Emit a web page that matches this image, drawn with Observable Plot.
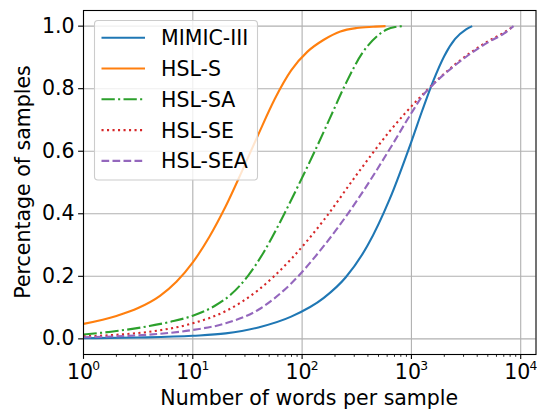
<!DOCTYPE html>
<html><head><meta charset="utf-8">
<script src="https://cdn.jsdelivr.net/npm/d3@7"></script>
<script src="https://cdn.jsdelivr.net/npm/@observablehq/plot@0.6"></script>
<style>
html,body{margin:0;padding:0;background:#fff;}
#chart{width:537px;height:411px;overflow:hidden;}
</style></head><body><div id="chart"></div>
<script>
// ---- data ----
const mimicIII = [[1,0.002],[3.16,0.0043],[10,0.0098],[20,0.0175],[39.8,0.0365],[79.4,0.071],[158,0.131],[251,0.197],[398,0.299],[631,0.446],[1000,0.631],[1259,0.731],[1585,0.825],[1995,0.904],[2512,0.959],[3162,0.990],[3600,1.000]];
const hslS = [[1,0.048],[2,0.0735],[3.16,0.0985],[5.01,0.1375],[7.08,0.1825],[10,0.2445],[14.1,0.325],[20,0.424],[28.2,0.5365],[39.8,0.654],[56.2,0.767],[79.4,0.8585],[112,0.9185],[158,0.9565],[224,0.983],[316,0.994],[447,0.998],[580,1.000]];
const hslSA = [[1,0.014],[2,0.025],[4,0.041],[6.3,0.055],[10,0.074],[15.8,0.105],[22.4,0.1425],[31.6,0.199],[44.7,0.278],[63,0.374],[89,0.479],[126,0.5885],[178,0.7025],[251,0.8165],[355,0.9135],[501,0.972],[603,0.990],[708,0.997],[850,1.000]];
const hslSE = [[1,0.008],[2,0.013],[4,0.0228],[10,0.0498],[20,0.0888],[39.8,0.1563],[79.4,0.2553],[158,0.3798],[316,0.5253],[631,0.6633],[1259,0.7803],[2512,0.8778],[5012,0.9513],[7000,0.979],[8600,1.000]];
const hslSEA = [[1,0.005],[2,0.008],[4,0.0136],[10,0.0286],[20,0.0496],[39.8,0.0931],[79.4,0.1771],[158,0.2971],[316,0.4411],[631,0.6061],[1000,0.7221],[1259,0.7761],[1585,0.8137],[2512,0.8748],[5012,0.9483],[7000,0.976],[8600,1.000]];

const seriesNames = ["MIMIC-III","HSL-S","HSL-SA","HSL-SE","HSL-SEA"];
const seriesData = [mimicIII, hslS, hslSA, hslSE, hslSEA];
const seriesColors = ["#1f77b4","#ff7f0e","#2ca02c","#d62728","#9467bd"];
const seriesDash = [null, null, "13.3,3.3,2.1,3.3", "2.1,3.4", "7.7,3.3"];

const xMajorTicks = [1,10,100,1000,10000];
const xMinorTicks = [2,3,4,5,6,7,8,9,20,30,40,50,60,70,80,90,200,300,400,500,600,700,800,900,2000,3000,4000,5000,6000,7000,8000,9000];
const yTicks = [0,0.2,0.4,0.6,0.8,1.0];
const xDomain = [1,13800];
const yDomain = [-0.05,1.05];
const xTitle = "Number of words per sample";
const yTitle = "Percentage of samples";

// ---- chart ----
const FONT = "'DejaVu Sans', sans-serif";
const FS = 20.5;
const W = 537, H = 411, ML = 83, MR = 1.5, MT = 10, MB = 57;

const lineMarks = seriesData.map((d,i) => Plot.line(d, {
  x: p => p[0], y: p => p[1],
  stroke: seriesColors[i], strokeWidth: 2.1,
  strokeDasharray: seriesDash[i] || undefined,
  curve: "monotone-x", strokeLinecap: "butt"
}));

const svg = Plot.plot({
  width: W, height: H,
  marginLeft: ML, marginRight: MR, marginTop: MT, marginBottom: MB,
  style: {fontFamily: FONT, fontSize: FS + "px", background: "white", color: "black", overflow: "visible"},
  x: {type: "log", domain: xDomain},
  y: {domain: yDomain},
  marks: [
    Plot.gridX(xMajorTicks, {stroke: "#b0b0b0", strokeOpacity: 1, strokeWidth: 1.1}),
    Plot.gridY(yTicks, {stroke: "#b0b0b0", strokeOpacity: 1, strokeWidth: 1.1}),
    ...lineMarks,
    Plot.frame({stroke: "black", strokeWidth: 1.1}),
    Plot.axisX(xMinorTicks, {tickSize: 2.8, strokeWidth: 0.85, tickFormat: () => "", label: null}),
    Plot.axisX(xMajorTicks, {tickSize: 4.9, strokeWidth: 1.1, tickPadding: 5, fontSize: FS,
      tickFormat: d => "10^" + Math.round(Math.log10(d)), label: null}),
    Plot.axisY(yTicks, {tickSize: 4.9, strokeWidth: 1.1, tickPadding: 4, fontSize: FS,
      tickFormat: d3.format(".1f"), label: null})
  ]
});

const s = d3.select(svg);
// superscript exponents on x tick labels
s.selectAll("text").each(function() {
  const t = this.textContent;
  if (/^10\^\d$/.test(t)) {
    const e = t.split("^")[1];
    const el = d3.select(this);
    el.text(null);
    el.append("tspan").text("10");
    el.append("tspan").attr("font-size", (FS*0.6) + "px").attr("dx", -0.8).attr("dy", "-0.72em").text(e);
  }
});

// axis titles
s.append("text").attr("x", (ML + W - MR)/2).attr("y", 405)
  .attr("text-anchor", "middle").attr("font-family", FONT).attr("font-size", FS).attr("fill", "black")
  .text(xTitle);
s.append("text").attr("transform", `translate(30,${(MT + H - MB)/2}) rotate(-90)`)
  .attr("text-anchor", "middle").attr("font-family", FONT).attr("font-size", FS).attr("fill", "black")
  .text(yTitle);

// legend
const lg = s.append("g");
lg.append("rect").attr("x", 94.5).attr("y", 20.5).attr("width", 163).attr("height", 159.5)
  .attr("rx", 3.5).attr("fill", "white").attr("fill-opacity", 0.8)
  .attr("stroke", "#cccccc").attr("stroke-width", 1.1);
seriesNames.forEach((name, i) => {
  const cy = 37.7 + 30.8 * i;
  lg.append("line").attr("x1", 101.5).attr("x2", 145).attr("y1", cy).attr("y2", cy)
    .attr("stroke", seriesColors[i]).attr("stroke-width", 2.1)
    .attr("stroke-dasharray", seriesDash[i] || null);
  lg.append("text").attr("x", 161).attr("y", cy + 7.5).attr("text-anchor", "start")
    .attr("font-family", FONT).attr("font-size", FS).attr("fill", "black").text(name);
});

document.getElementById("chart").appendChild(svg);
</script>
</body></html>
